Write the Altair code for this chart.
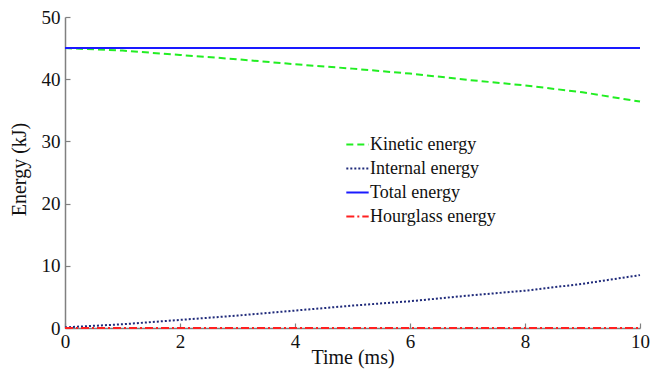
import altair as alt
import pandas as pd

time_ms = [0, 1, 2, 3, 4, 5, 6, 7, 8, 9, 10]
kinetic = [45.0, 44.6, 43.9, 43.2, 42.4, 41.7, 40.9, 39.9, 39.0, 37.9, 36.4]
internal = [0.1, 0.6, 1.3, 2.0, 2.8, 3.6, 4.3, 5.2, 6.0, 7.1, 8.5]
total = [45.0, 45.0, 45.0, 45.0, 45.0, 45.0, 45.0, 45.0, 45.0, 45.0, 45.0]
hourglass = [0.0, 0.0, 0.0, 0.0, 0.0, 0.0, 0.0, 0.0, 0.0, 0.0, 0.0]

series_names = ["Kinetic energy", "Internal energy", "Total energy", "Hourglass energy"]
series_colors = ["#22ee22", "#1f2a7a", "#1a1aff", "#ff2020"]
series_dash = [[7, 4], [2, 2], [1, 0], [8, 3, 2, 3]]

rows = []
for name, vals in zip(series_names, [kinetic, internal, total, hourglass]):
    for t, v in zip(time_ms, vals):
        rows.append({"t": t, "v": v, "s": name})
df = pd.DataFrame(rows)

FONT = "Liberation Serif"
W, H = 575, 311
xs = alt.Scale(domain=[0, 10], nice=False, zero=False)
ys = alt.Scale(domain=[0, 50], nice=False)


def make_legend():
    return alt.Legend(title=None, orient="none", legendX=280, legendY=115,
                      symbolType="stroke", symbolSize=500, symbolStrokeWidth=2,
                      labelFontSize=18, labelFont=FONT, labelColor="#111",
                      rowPadding=2, labelOffset=0)


lines = alt.Chart(df).mark_line(strokeWidth=2).encode(
    x=alt.X("t:Q", scale=xs, title="Time (ms)",
            axis=alt.Axis(values=[0, 2, 4, 6, 8, 10], ticks=False, labelPadding=4,
                          labelFlush=False, titleBaseline="alphabetic", titleY=35,
                          domainColor="#808080", domainWidth=1.5)),
    y=alt.Y("v:Q", scale=ys, title="Energy (kJ)",
            axis=alt.Axis(values=[0, 10, 20, 30, 40, 50], ticks=False, labelPadding=5,
                          labelFlush=False, titleX=-36, titleY=152,
                          domainColor="#808080", domainWidth=1.5)),
    color=alt.Color("s:N", scale=alt.Scale(domain=series_names, range=series_colors),
                    legend=make_legend()),
    strokeDash=alt.StrokeDash("s:N", scale=alt.Scale(domain=series_names, range=series_dash),
                              legend=make_legend()),
    order=alt.Order("s:N"),
)

ticks_layer = alt.Chart(df).mark_point(opacity=0).encode(
    x=alt.X("t:Q", scale=xs, title=None,
            axis=alt.Axis(orient="top", offset=-H, values=[0, 2, 4, 6, 8, 10], labels=False,
                          domain=False, tickSize=5, tickColor="#808080", tickWidth=1.2)),
    y=alt.Y("v:Q", scale=ys, title=None,
            axis=alt.Axis(orient="right", offset=-W, values=[0, 10, 20, 30, 40, 50], labels=False,
                          domain=False, tickSize=5, tickColor="#808080", tickWidth=1.2)),
)

chart = alt.layer(lines, ticks_layer).resolve_axis(x="independent", y="independent").properties(
    width=W, height=H,
    autosize=alt.AutoSizeParams(type="none"),
    padding={"left": 57, "top": 9, "right": 16, "bottom": 41},
).configure_axis(
    labelFont=FONT, titleFont=FONT, labelFontSize=19, titleFontSize=20,
    labelColor="#111", titleColor="#111", titleFontWeight="normal", grid=False,
).configure_view(stroke=None)

chart.save("out.html", embed_options={"renderer": "svg", "actions": False})
